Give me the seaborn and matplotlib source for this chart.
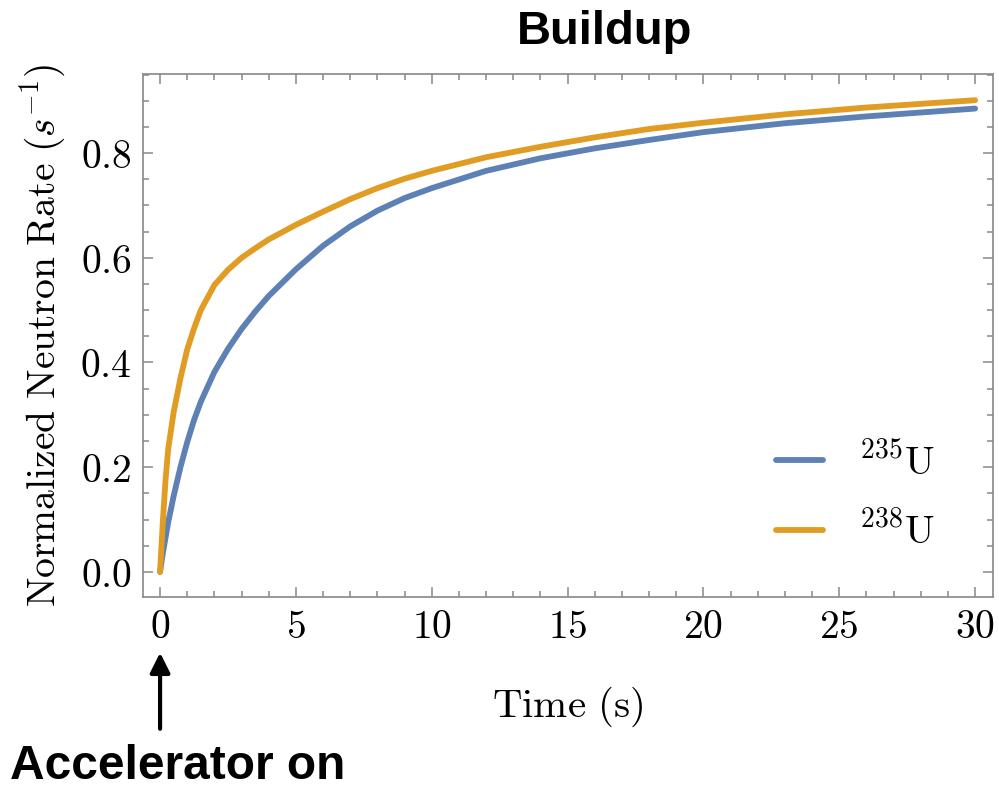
import numpy as np
import pandas as pd
import matplotlib
matplotlib.use('Agg')
import matplotlib.pyplot as plt
from matplotlib.ticker import MultipleLocator, FuncFormatter
import seaborn as sns

# values
time_s = [0, 0.1, 0.2, 0.3, 0.5, 0.75, 1, 1.25, 1.5, 2, 2.5, 3, 3.5, 4, 5, 6, 7, 8, 9, 10,
          12, 14, 16, 18, 20, 23, 26, 30]
u235 = [0, 0.035, 0.065, 0.095, 0.145, 0.2, 0.248, 0.29, 0.325, 0.382, 0.426, 0.464, 0.497, 0.527,
        0.578, 0.623, 0.66, 0.69, 0.714, 0.733, 0.766, 0.79, 0.809, 0.825, 0.84, 0.857, 0.87, 0.885]
u238 = [0, 0.095, 0.175, 0.235, 0.305, 0.37, 0.425, 0.465, 0.5, 0.548, 0.577, 0.6, 0.618, 0.635,
        0.663, 0.688, 0.712, 0.733, 0.751, 0.766, 0.792, 0.812, 0.83, 0.846, 0.858, 0.874, 0.887, 0.901]
labels = [r'$^{235}\mathrm{U}$', r'$^{238}\mathrm{U}$']
colors = ['#5e81b5', '#e19c24']

df = pd.concat([
    pd.DataFrame({'t': time_s, 'rate': u235, 'iso': labels[0]}),
    pd.DataFrame({'t': time_s, 'rate': u238, 'iso': labels[1]}),
])

sns.set_style('ticks')
plt.rcParams['mathtext.fontset'] = 'cm'
plt.rcParams['font.family'] = ['Liberation Sans', 'DejaVu Sans']
plt.rcParams['text.color'] = 'black'
plt.rcParams['axes.labelcolor'] = 'black'

fig = plt.figure(figsize=(9.99, 7.90), dpi=100)
ax = fig.add_axes([0.1431, 0.2443, 0.8509, 0.662])

sns.lineplot(data=df, x='t', y='rate', hue='iso', palette=colors, linewidth=4.2, ax=ax)

ax.set_xlim(-0.63, 30.66)
ax.set_ylim(-0.048, 0.951)
ax.xaxis.set_major_locator(MultipleLocator(5))
ax.xaxis.set_minor_locator(MultipleLocator(1))
ax.yaxis.set_major_locator(MultipleLocator(0.2))
ax.yaxis.set_minor_locator(MultipleLocator(0.05))
ax.xaxis.set_major_formatter(FuncFormatter(lambda v, p: r'$%d$' % round(v)))
ax.yaxis.set_major_formatter(FuncFormatter(lambda v, p: r'$%.1f$' % v))

gray = '#888888'
for s in ax.spines.values():
    s.set_color(gray)
    s.set_linewidth(1.2)
ax.tick_params(which='both', direction='in', top=True, right=True, color=gray, width=1.1,
               labelsize=28.5, labelcolor='black')
ax.tick_params(which='major', length=7, pad=8)
ax.tick_params(which='minor', length=4.5)

ax.set_xlabel(r'$\mathrm{Time\ (s)}$', fontsize=29.5, labelpad=28)
ax.set_ylabel(r'$\mathrm{Normalized\ Neutron\ Rate\ (}s^{-1}\mathrm{)}$', fontsize=28.5, labelpad=9)

leg = ax.legend(frameon=False, loc='center', bbox_to_anchor=(0.838, 0.191), fontsize=28.5,
                handlelength=1.2, handletextpad=0.9, labelspacing=0.75)
for h in leg.get_lines():
    h.set_linewidth(4.2)

fig.text(605 / 999, 1 - 32 / 790, 'Buildup', fontsize=34, fontweight='bold', ha='center', va='center')
ax.annotate('', xy=(0, -0.149), xytext=(0, -0.305), xycoords='data', annotation_clip=False,
            arrowprops=dict(arrowstyle='-|>', color='black', lw=3, mutation_scale=30))
fig.text(10 / 999, 1 - 779 / 790, 'Accelerator on', fontsize=34.5, fontweight='bold',
         ha='left', va='baseline')

fig.savefig('out.png', dpi=100)
